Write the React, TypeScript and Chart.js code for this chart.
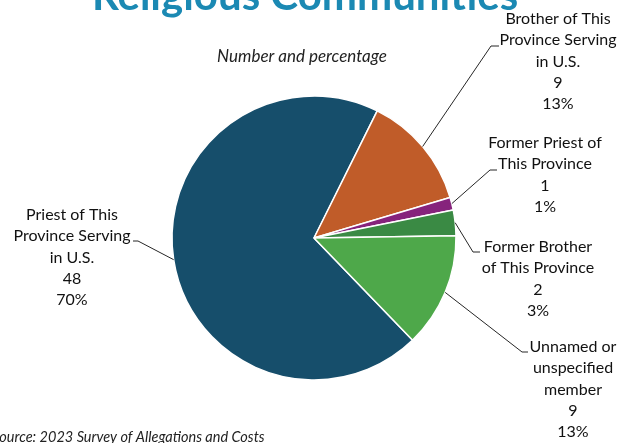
import React, { useEffect, useRef } from "react";
import { Chart, registerables } from "chart.js";

Chart.register(...registerables);

const TITLE = "Religious Communities";
const SUBTITLE = "Number and percentage";
const SOURCE = "Source: 2023 Survey of Allegations and Costs";

const categories = [
  "Priest of This Province Serving in U.S.",
  "Brother of This Province Serving in U.S.",
  "Former Priest of This Province",
  "Former Brother of This Province",
  "Unnamed or unspecified member",
];
const labelLines = [
  ["Priest of This", "Province Serving", "in U.S."],
  ["Brother of This", "Province Serving", "in U.S."],
  ["Former Priest of", "This Province"],
  ["Former Brother", "of This Province"],
  ["Unnamed or", "unspecified", "member"],
];
const counts = [48, 9, 1, 2, 9];
const colors = ["#164e6b", "#c05c29", "#86237c", "#3a8a44", "#4ea84a"];

// label layout: [centerX, firstLineY, elbowX, elbowY, endX]
const labelLayout = [
  [72, 215, 138, 241, 133],
  [558, 19, 491, 46, 499],
  [545, 143, 490, 170, 497],
  [538, 247, 473, 252, 480],
  [573, 347, 522, 352, 528],
];

const FONT = "Lato, 'Open Sans', sans-serif";

const labelPlugin = {
  id: "pieLabels",
  afterDatasetsDraw(chart: any) {
    const ctx = chart.ctx;
    const meta = chart.getDatasetMeta(0);
    const total = counts.reduce((a, b) => a + b, 0);
    ctx.save();
    // title
    ctx.fillStyle = "#1b89b3";
    ctx.font = `bold 42px ${FONT}`;
    ctx.textAlign = "center";
    ctx.textBaseline = "alphabetic";
    ctx.fillText(TITLE, 305, 10);
    // subtitle
    ctx.fillStyle = "#222222";
    ctx.font = `italic 17px ${FONT}`;
    ctx.textBaseline = "middle";
    ctx.fillText(SUBTITLE, 302, 57);
    // source
    ctx.font = `italic 14.5px ${FONT}`;
    ctx.textAlign = "left";
    ctx.fillStyle = "#222222";
    ctx.fillText(SOURCE, -8, 437);

    // leader lines
    ctx.strokeStyle = "#262626";
    ctx.lineWidth = 1;
    meta.data.forEach((arc: any, i: number) => {
      const mid = (arc.startAngle + arc.endAngle) / 2;
      const r = arc.outerRadius;
      const sx = arc.x + Math.cos(mid) * r;
      const sy = arc.y + Math.sin(mid) * r;
      const [, , ex, ey, endX] = labelLayout[i];
      ctx.beginPath();
      ctx.moveTo(sx, sy);
      ctx.lineTo(ex, ey);
      ctx.lineTo(endX, ey);
      ctx.stroke();
    });

    // labels
    ctx.fillStyle = "#111111";
    ctx.font = `16px ${FONT}`;
    ctx.textAlign = "center";
    ctx.textBaseline = "middle";
    counts.forEach((v, i) => {
      const [cx, y0] = labelLayout[i];
      const lines = [...labelLines[i], String(v), Math.round((v / total) * 100) + "%"];
      lines.forEach((t, k) => ctx.fillText(t, cx, y0 + k * 21.2));
    });
    ctx.restore();
  },
};

export default function App() {
  const ref = useRef<HTMLCanvasElement>(null);
  useEffect(() => {
    document.body.style.margin = "0";
    const chart = new Chart(ref.current!, {
      type: "pie",
      data: {
        labels: categories,
        datasets: [
          {
            data: counts,
            backgroundColor: colors,
            borderColor: "#ffffff",
            borderWidth: 1.5,
          },
        ],
      },
      options: {
        animation: false,
        responsive: false,
        rotation: 136,
        radius: 142,
        layout: { padding: { left: 172, right: 173, top: 96, bottom: 63 } },
        plugins: {
          legend: { display: false },
          tooltip: { enabled: false },
          title: { display: false },
        },
      },
      plugins: [labelPlugin],
    });
    return () => chart.destroy();
  }, []);
  return (
    <div style={{ position: "absolute", left: 0, top: 0, width: 629, height: 443, background: "#fff" }}>
      <canvas ref={ref} width={629} height={443} style={{ display: "block" }} />
    </div>
  );
}
